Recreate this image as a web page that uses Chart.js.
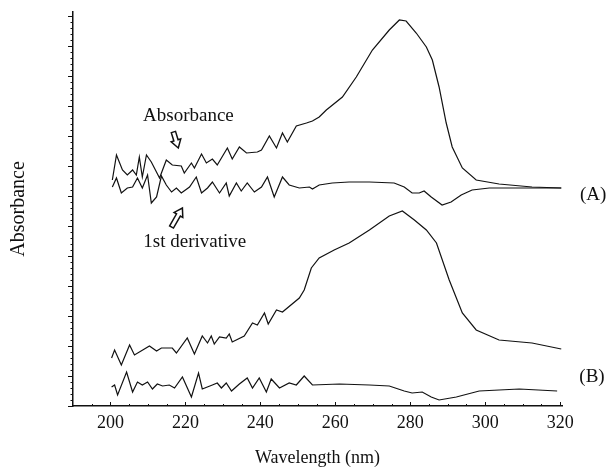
<!DOCTYPE html>
<html>
<head>
<meta charset="utf-8">
<script src="https://cdn.jsdelivr.net/npm/chart.js@4/dist/chart.umd.min.js"></script>
<style>
  html, body { margin: 0; padding: 0; background: #fff; }
  #wrap { width: 613px; height: 472px; }
</style>
</head>
<body>
<div id="wrap"><canvas id="chart" width="613" height="472"></canvas></div>
<script>
// (A) 吸收光谱
const aAbsWl = [200.5, 201.6, 203.2, 204.5, 205.9, 206.9, 207.7, 208.5, 209.6, 210.9, 213.1, 214.9, 216.5, 218.9, 219.7,
  221.6, 222.4, 224.3, 225.6, 227.2, 228.5, 231.2, 232.5, 234.4, 236.3, 239.2, 240.3, 242.4, 244.3, 245.9, 247.2,
  249.6, 252.3, 253.9, 255.7, 257.6, 261.9, 265.6, 269.9, 274.4, 277.1, 278.9, 281.6, 284.3, 285.9, 287.7, 289.6,
  291.2, 293.9, 297.6, 303.7, 312.5, 320.3];
const aAbsVal = [2.26, 2.51, 2.36, 2.31, 2.36, 2.31, 2.49, 2.29, 2.51, 2.44, 2.28, 2.46, 2.41, 2.40, 2.33,
  2.43, 2.38, 2.52, 2.43, 2.47, 2.41, 2.58, 2.47, 2.59, 2.53, 2.54, 2.56, 2.70, 2.58, 2.73, 2.64,
  2.80, 2.83, 2.85, 2.89, 2.96, 3.09, 3.29, 3.56, 3.76, 3.86, 3.85, 3.73, 3.59, 3.46, 3.19, 2.83,
  2.59, 2.38, 2.26, 2.22, 2.19, 2.18];

// (A) 一阶导数
const aDerWl = [200.5, 201.6, 202.9, 204.5, 205.9, 207.2, 208.5, 209.9, 210.9, 212.3, 213.6, 214.9, 216.3, 217.6, 218.9,
  221.1, 222.9, 224.3, 225.9, 227.2, 229.1, 230.9, 231.7, 233.6, 234.9, 236.5, 238.4, 240.3, 241.9, 243.7, 245.9,
  247.7, 250.4, 253.1, 253.9, 255.7, 259.2, 263.7, 269.1, 275.7, 278.4, 280.5, 282.4, 283.7, 285.6, 288.5, 290.9,
  293.6, 296.5, 301.1, 309.1, 320.3];
const aDerVal = [2.19, 2.28, 2.13, 2.18, 2.19, 2.28, 2.18, 2.31, 2.03, 2.09, 2.30, 2.21, 2.14, 2.18, 2.13,
  2.19, 2.29, 2.13, 2.18, 2.24, 2.13, 2.23, 2.10, 2.23, 2.15, 2.23, 2.14, 2.19, 2.29, 2.09, 2.29,
  2.21, 2.18, 2.19, 2.17, 2.21, 2.23, 2.24, 2.24, 2.23, 2.19, 2.13, 2.13, 2.15, 2.09, 2.01, 2.04,
  2.11, 2.16, 2.18, 2.18, 2.18];

// (B) 吸收光谱
const bAbsWl = [200.3, 201.1, 202.9, 205.1, 206.4, 210.4, 212.3, 213.6, 216.5, 217.6, 220.5, 222.4, 224.5, 225.9, 226.9,
  227.7, 229.1, 230.9, 231.7, 232.5, 235.7, 237.9, 239.2, 241.1, 242.1, 244.3, 245.9, 250.4, 251.7, 253.6, 255.7,
  259.7, 263.7, 269.1, 274.4, 277.9, 281.1, 284.3, 287.0, 290.4, 293.9, 297.6, 303.7, 312.5, 320.3];
const bAbsVal = [0.48, 0.56, 0.41, 0.61, 0.51, 0.60, 0.55, 0.58, 0.58, 0.53, 0.68, 0.52, 0.70, 0.63, 0.70,
  0.62, 0.69, 0.68, 0.72, 0.64, 0.70, 0.83, 0.81, 0.93, 0.82, 0.96, 0.94, 1.08, 1.16, 1.38, 1.48,
  1.56, 1.63, 1.76, 1.90, 1.95, 1.86, 1.76, 1.63, 1.26, 0.93, 0.76, 0.66, 0.63, 0.57];

// (B) 一阶导数
const bDerWl = [200.3, 201.1, 201.9, 204.3, 205.9, 207.2, 208.5, 209.9, 211.2, 212.5, 213.9, 215.7, 217.1, 219.2, 221.6,
  223.5, 224.5, 227.2, 228.5, 229.6, 230.9, 232.3, 234.4, 236.5, 237.9, 239.7, 241.6, 242.9, 245.1, 247.7, 249.6,
  251.7, 253.9, 261.1, 269.1, 274.4, 278.4, 280.5, 283.2, 285.6, 287.7, 292.3, 298.4, 303.7, 309.1, 319.2];
const bDerVal = [0.19, 0.21, 0.11, 0.34, 0.14, 0.24, 0.21, 0.24, 0.17, 0.22, 0.20, 0.21, 0.18, 0.29, 0.09,
  0.33, 0.17, 0.21, 0.23, 0.18, 0.23, 0.15, 0.22, 0.28, 0.18, 0.28, 0.14, 0.27, 0.18, 0.23, 0.21,
  0.30, 0.21, 0.22, 0.21, 0.20, 0.15, 0.13, 0.14, 0.09, 0.06, 0.09, 0.15, 0.16, 0.17, 0.15];

// 坐标轴
const xTickValues = [200, 220, 240, 260, 280, 300, 320];
const xRange = [190, 320.5];
const yRange = [0, 3.94];

// 注释 (数据坐标)
const notes = [
  { text: 'Absorbance', x: 220.8, y: 2.90 },
  { text: '1st derivative', x: 222.5, y: 1.64 },
  { text: '(A)', x: 328.8, y: 2.11 },
  { text: '(B)', x: 328.5, y: 0.29 }
];
const arrows = [
  { from: [216.8, 2.74], to: [218.1, 2.58] },
  { from: [216.3, 1.79], to: [219.2, 1.98] }
];

const SERIF = '"Liberation Serif", "DejaVu Serif", serif';

function toPoints(xs, ys) {
  return xs.map((x, i) => ({ x: x, y: ys[i] }));
}

function lineSet(xs, ys) {
  return {
    data: toPoints(xs, ys),
    showLine: true,
    borderColor: '#111',
    borderWidth: 1.2,
    pointRadius: 0,
    tension: 0,
    fill: false
  };
}

// 刻度线和注释
const decorPlugin = {
  id: 'decor',
  afterDraw(chart) {
    const ctx = chart.ctx;
    const xs = chart.scales.x;
    const ys = chart.scales.y;
    ctx.save();
    ctx.strokeStyle = '#111';
    ctx.lineWidth = 1;

    // y 轴小刻度
    const axX = chart.chartArea.left;
    for (let k = 0; k * 0.06 <= yRange[1] + 1e-6; k++) {
      const py = Math.round(ys.getPixelForValue(k * 0.06)) + 0.5;
      const len = (k % 5 === 0) ? 5 : 2.5;
      ctx.beginPath();
      ctx.moveTo(axX - len, py);
      ctx.lineTo(axX, py);
      ctx.stroke();
    }
    // x 轴小刻度
    const axY = chart.chartArea.bottom;
    for (let v = 195; v <= 320; v += 5) {
      const px = Math.round(xs.getPixelForValue(v)) + 0.5;
      const len = (v % 20 === 0) ? 4 : 2;
      ctx.beginPath();
      ctx.moveTo(px, axY);
      ctx.lineTo(px, axY - len);
      ctx.stroke();
    }

    // 文字
    ctx.fillStyle = '#111';
    ctx.font = '19px ' + SERIF;
    ctx.textAlign = 'center';
    ctx.textBaseline = 'middle';
    notes.forEach(n => {
      ctx.fillText(n.text, xs.getPixelForValue(n.x), ys.getPixelForValue(n.y));
    });

    // 空心箭头
    arrows.forEach(a => {
      const x0 = xs.getPixelForValue(a.from[0]);
      const y0 = ys.getPixelForValue(a.from[1]);
      const x1 = xs.getPixelForValue(a.to[0]);
      const y1 = ys.getPixelForValue(a.to[1]);
      const ang = Math.atan2(y1 - y0, x1 - x0);
      const L = Math.hypot(x1 - x0, y1 - y0);
      const hl = 8, hw = 5, sw = 2.2;
      ctx.save();
      ctx.translate(x0, y0);
      ctx.rotate(ang);
      ctx.beginPath();
      ctx.moveTo(0, -sw);
      ctx.lineTo(L - hl, -sw);
      ctx.lineTo(L - hl, -hw);
      ctx.lineTo(L, 0);
      ctx.lineTo(L - hl, hw);
      ctx.lineTo(L - hl, sw);
      ctx.lineTo(0, sw);
      ctx.closePath();
      ctx.fillStyle = '#fff';
      ctx.fill();
      ctx.lineWidth = 1.5;
      ctx.stroke();
      ctx.restore();
    });
    ctx.restore();
  }
};

new Chart(document.getElementById('chart').getContext('2d'), {
  type: 'scatter',
  data: {
    datasets: [
      lineSet(aAbsWl, aAbsVal),
      lineSet(aDerWl, aDerVal),
      lineSet(bAbsWl, bAbsVal),
      lineSet(bDerWl, bDerVal)
    ]
  },
  options: {
    responsive: false,
    animation: false,
    layout: { padding: { top: 12, right: 51, bottom: 0, left: 0 } },
    plugins: {
      legend: { display: false },
      tooltip: { enabled: false }
    },
    scales: {
      x: {
        type: 'linear',
        min: xRange[0],
        max: xRange[1],
        grid: { display: false, drawTicks: false },
        border: { display: true, color: '#111', width: 1.5 },
        afterBuildTicks: scale => {
          scale.ticks = xTickValues.map(v => ({ value: v }));
        },
        ticks: {
          color: '#111',
          padding: 6,
          maxRotation: 0,
          autoSkip: false,
          font: { family: SERIF, size: 18 }
        },
        title: {
          display: true,
          text: 'Wavelength (nm)',
          color: '#111',
          font: { family: SERIF, size: 18 },
          padding: { top: 7.6, bottom: 3.2 }
        }
      },
      y: {
        type: 'linear',
        min: yRange[0],
        max: yRange[1],
        grid: { display: false, drawTicks: false },
        border: { display: true, color: '#111', width: 1.5 },
        ticks: { display: false },
        title: {
          display: true,
          text: 'Absorbance',
          color: '#111',
          font: { family: SERIF, size: 20 },
          padding: { top: 7, bottom: 42 }
        }
      }
    }
  },
  plugins: [decorPlugin]
});
</script>
</body>
</html>
